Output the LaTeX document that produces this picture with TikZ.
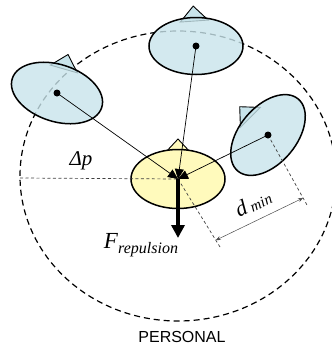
\documentclass[tikz,border=0pt]{standalone}
\usepackage{fontspec}
\setmainfont{Liberation Serif}
\setsansfont{Liberation Sans}
\usepackage{xcolor}
\usepackage{tikz}
\usetikzlibrary{arrows.meta,positioning,calc,shapes.geometric,backgrounds}
\definecolor{personblue}{RGB}{200,228,235}
\definecolor{selfyellow}{RGB}{255,250,188}

\begin{document}
\begin{tikzpicture}[x=1pt,y=-1pt,
  person/.style={draw,ellipse,line width=1.5pt,fill=personblue,fill opacity=0.8,minimum width=94pt,minimum height=57pt,inner sep=0pt},
  hat/.style={draw,line width=0.9pt},
  link/.style={line width=0.7pt,-{Triangle[length=10pt,width=9pt]}},
  guide/.style={dash pattern=on 3pt off 2.5pt,line width=0.7pt,black!75}]
\useasboundingbox (0,0) rectangle (332,349);

\node[person,rotate=-18] (left) at (57,93) {};
\node[person] (top) at (196,46) {};
\node[person,rotate=50] (right) at (268,135) {};
\node[person,fill=selfyellow,fill opacity=1,minimum height=59pt] (self) at (178,179) {};

% zone and heading marks behind the people
\begin{scope}[on background layer]
\node[draw,ellipse,dash pattern=on 6pt off 4pt,line width=1.2pt,minimum width=316pt,minimum height=290pt,inner sep=0pt] (zone) at (178,176) {};
\foreach \p/\a/\c in {left/-16/personblue, top/4/personblue, right/45/personblue, self/0/selfyellow}
  \draw[hat,fill=\c,shift={(\p.center)},rotate=\a] (-14,-25) -- (0,-40) -- (14,-25) -- cycle;
\end{scope}

% guides
\coordinate (pl) at (20,178);
\coordinate (dl) at (220,247);
\coordinate (dr) at (307,205);
\draw[guide] (pl) -- (self.center);
\draw[guide] (self.center) -- (dl);
\draw[guide] (right.center) -- (dr);
\draw[{Stealth[length=5pt,width=4pt]}-{Stealth[length=5pt,width=4pt]},line width=0.5pt,black!70] ($(self.center)!0.9!(dl)$) -- ($(right.center)!0.9!(dr)$);

\foreach \p in {left,top,right}
  \draw[link] (\p.center) -- (self.center);
\foreach \p in {left,top,right}
  \fill (\p.center) circle (3.5);

\coordinate (ftip) at (178,238);
\draw[line width=3.5pt,-{Triangle[length=13pt,width=13pt]}] (self.center) -- (ftip);

% labels
\node (dp) at (81,161) {\fontsize{21}{21}\selectfont\textit{Δp}};
\node (frep) at (141,245) {\fontsize{23}{23}\selectfont\textit{F}\raisebox{-5pt}{\fontsize{16}{16}\selectfont\textit{repulsion}}};
\node[inner sep=0pt,rotate=25] (dmin) at (253,203) {\fontsize{22}{22}\selectfont\textit{d}\,\raisebox{-1pt}{\fontsize{15}{15}\selectfont\textit{min}}};
\node[font=\sffamily\fontsize{16}{16}\selectfont] (zonelabel) at (182,337) {PERSONAL};
\end{tikzpicture}
\end{document}
